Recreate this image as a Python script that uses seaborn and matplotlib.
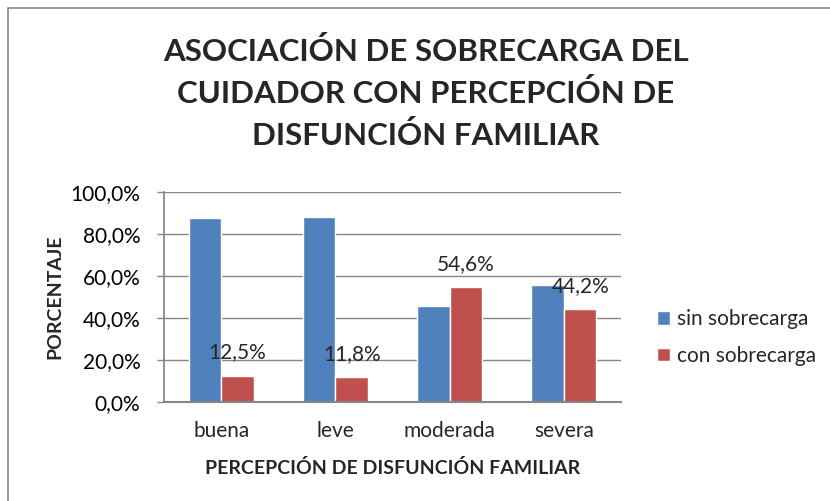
import pandas as pd
import seaborn as sns
import matplotlib.pyplot as plt
from matplotlib.patches import Rectangle
from matplotlib.ticker import FuncFormatter

categorias = ["buena", "leve", "moderada", "severa"]
series = ["sin sobrecarga", "con sobrecarga"]
sin_sobrecarga = [87.5, 88.2, 45.4, 55.8]
con_sobrecarga = [12.5, 11.8, 54.6, 44.2]
etiquetas_con = ["12,5%", "11,8%", "54,6%", "44,2%"]

df = pd.DataFrame({
    "categoria": categorias * 2,
    "serie": [series[0]] * 4 + [series[1]] * 4,
    "valor": sin_sobrecarga + con_sobrecarga,
})

sns.set_theme(style="white")
plt.rcParams["font.family"] = ["Lato", "DejaVu Sans"]

fig = plt.figure(figsize=(8.3, 5.01), dpi=100)
ax = fig.add_axes([0.1976, 0.198, 0.5506, 0.419])

sns.barplot(data=df, x="categoria", y="valor", hue="serie", order=categorias,
            hue_order=series, palette=["#4F81BD", "#C0504D"], width=0.57,
            saturation=1, ax=ax, legend=True)

ax.set_ylim(0, 100)
ax.set_yticks(range(0, 101, 20))
ax.yaxis.set_major_formatter(FuncFormatter(lambda v, p: f"{v:.1f}%".replace(".", ",")))
ax.grid(axis="y", color="#868686", linewidth=1)
ax.set_axisbelow(True)
for s in ["top", "right"]:
    ax.spines[s].set_visible(False)
ax.spines["left"].set_color("#868686")
ax.spines["bottom"].set_color("#868686")
ax.spines["bottom"].set_linewidth(1.5)
ax.tick_params(axis="y", labelsize=15, colors="#000000", length=5, width=1,
               left=True, color="#868686", pad=12)
ax.tick_params(axis="x", labelsize=15, length=0, pad=14)
ax.set_xlim(-0.5, 3.5)

# etiquetas de datos (serie con sobrecarga)
for i, (v, t) in enumerate(zip(con_sobrecarga, etiquetas_con)):
    ax.text(i + 0.1425, v + 11, t, ha="center", va="center", fontsize=15)

ax.set_xlabel("PERCEPCIÓN DE DISFUNCIÓN FAMILIAR", fontsize=14, fontweight="bold", labelpad=13)
ax.set_ylabel("")
fig.text(55 / 830, 0.408, "PORCENTAJE", rotation=90, ha="center", va="center",
         fontsize=14, fontweight="bold")

handles, labels = ax.get_legend_handles_labels()
ax.legend(handles, labels, loc="center left", bbox_to_anchor=(0.7916, 0.326),
          bbox_transform=fig.transFigure, frameon=False, fontsize=15, borderpad=0,
          borderaxespad=0, handlelength=0.62, handleheight=0.62, labelspacing=0.8,
          handletextpad=0.34)

fig.text(0.513, 0.813, "ASOCIACIÓN DE SOBRECARGA DEL\nCUIDADOR CON PERCEPCIÓN DE\nDISFUNCIÓN FAMILIAR",
         ha="center", va="center", fontsize=22.5, fontweight="bold", linespacing=1.54)

fig.patches.append(Rectangle((8 / 830, -0.2), 1.2, 1.2 - 8 / 501, transform=fig.transFigure,
                             fill=False, edgecolor="#868686", linewidth=1.2))

fig.savefig("out.png", dpi=100)
